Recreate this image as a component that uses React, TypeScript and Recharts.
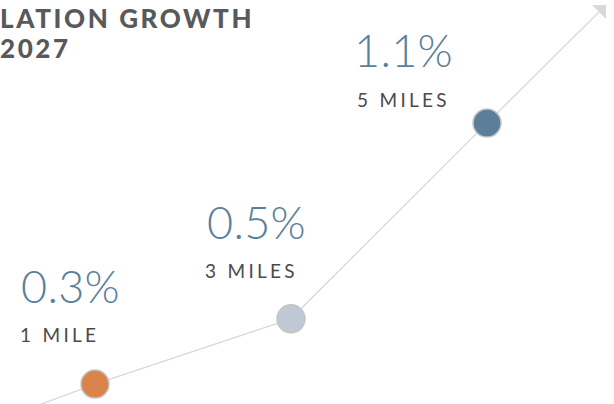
import React from 'react'
import { LabelList, Line, LineChart, XAxis, YAxis } from 'recharts'

// radius around the site and projected annual growth (%)
const radii = ['1 MILE', '3 MILES', '5 MILES']
const radiusMiles = [1, 3, 5]
const growthPct = [0.3, 0.5, 1.1]
const dotColors = ['#d8844a', '#bfc9d5', '#5b7f99']

// trend line runs a bit past the first and last ring
const trendMiles = [0.42, 1, 3, 5, 6.143]
const trendGrowth = [0.235, 0.3, 0.5, 1.1, 1.44]

const pointData = radiusMiles.map((miles, i) => ({
  miles,
  growth: growthPct[i],
  label: radii[i],
}))
const trendData = trendMiles.map((miles, i) => ({ miles, growth: trendGrowth[i] }))

// where each text block sits relative to its dot
const labelOffsets = [
  { dx: -74, pctDy: -81, milesDx: -75, milesDy: -42 },
  { dx: -84, pctDy: -80, milesDx: -86, milesDy: -41 },
  { dx: -133, pctDy: -56, milesDx: -130, milesDy: -16 },
]

const W = 614
const H = 404
const PCT_BLUE = '#5a7f9b'
const LINE_GREY = '#d9d9d9'

const ArrowDot = (props: any) => {
  const { cx, cy, index } = props
  if (index !== trendData.length - 1) return <g key={`a-${index}`} />
  const s = 7
  return (
    <polygon
      key={`a-${index}`}
      points={`${cx - s},${cy - s} ${cx + s},${cy - s} ${cx + s},${cy + s}`}
      fill={LINE_GREY}
    />
  )
}

const RingDot = (props: any) => {
  const { cx, cy, index } = props
  return (
    <circle
      key={`d-${index}`}
      cx={cx}
      cy={cy}
      r={14}
      fill={dotColors[index]}
      stroke='#c4c4c4'
      strokeWidth={1.5}
    />
  )
}

const RingLabel = (props: any) => {
  const { x, y, index, value } = props
  const o = labelOffsets[index]
  return (
    <g key={`l-${index}`}>
      <text
        x={x + o.dx}
        y={y + o.pctDy}
        fill={PCT_BLUE}
        fontFamily='Lato, sans-serif'
        fontWeight={300}
        fontSize={45}
        letterSpacing={0.3}
      >
        {`${growthPct[index]}%`}
      </text>
      <text
        x={x + o.milesDx}
        y={y + o.milesDy}
        fill='#4a4a4a'
        fontFamily='Lato, sans-serif'
        fontWeight={400}
        fontSize={19}
        letterSpacing={3.3}
      >
        {value}
      </text>
    </g>
  )
}

const App = () => {
  return (
    <div
      style={{
        position: 'fixed',
        top: 0,
        left: 0,
        width: W,
        height: H,
        background: '#fff',
        overflow: 'hidden',
      }}
    >
      <div
        style={{
          position: 'absolute',
          top: 3,
          left: 0,
          fontFamily: 'Lato, sans-serif',
          fontWeight: 900,
          fontSize: 26,
          lineHeight: '30px',
          letterSpacing: 2.6,
          color: '#58595b',
        }}
      >
        LATION GROWTH
        <br />
        2027
      </div>
      <LineChart
        width={W}
        height={H}
        margin={{ top: 0, right: 0, bottom: 0, left: 0 }}
        style={{ position: 'absolute', top: 0, left: 0 }}
      >
        <XAxis
          hide
          type='number'
          dataKey='miles'
          domain={[0.0306, 6.296]}
          allowDataOverflow
        />
        <YAxis hide type='number' domain={[0.239, 1.477]} allowDataOverflow />

        {/* TREND LINE WITH ARROW */}
        <Line
          data={trendData}
          dataKey='growth'
          stroke={LINE_GREY}
          strokeWidth={1.3}
          dot={ArrowDot}
          activeDot={false}
          isAnimationActive={false}
        />

        {/* RING DOTS + LABELS */}
        <Line
          data={pointData}
          dataKey='growth'
          stroke='none'
          dot={RingDot}
          activeDot={false}
          isAnimationActive={false}
        >
          <LabelList dataKey='label' content={RingLabel} />
        </Line>
      </LineChart>
    </div>
  )
}

export default App
